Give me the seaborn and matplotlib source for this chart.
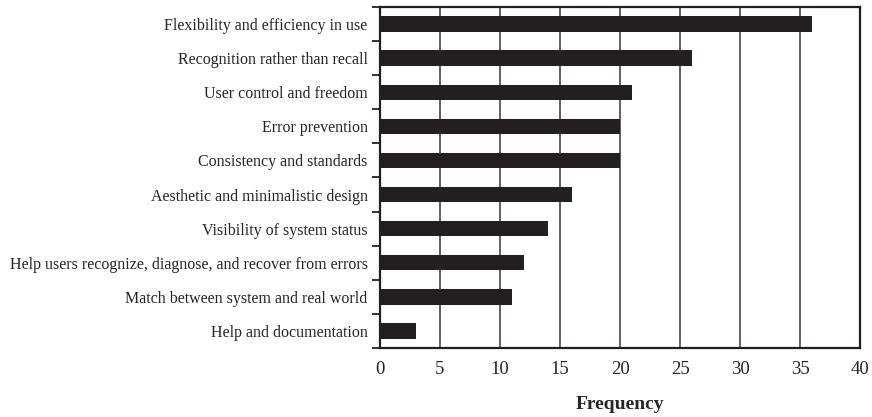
import matplotlib
matplotlib.use("Agg")
import matplotlib.pyplot as plt
import seaborn as sns
import pandas as pd
import numpy as np
from matplotlib.ticker import FixedLocator, NullFormatter

categories = [
    "Flexibility and efficiency in use",
    "Recognition rather than recall",
    "User control and freedom",
    "Error prevention",
    "Consistency and standards",
    "Aesthetic and minimalistic design",
    "Visibility of system status",
    "Help users recognize, diagnose, and recover from errors",
    "Match between system and real world",
    "Help and documentation",
]
frequency = [36, 26, 21, 20, 20, 16, 14, 12, 11, 3]
x_ticks = [0, 5, 10, 15, 20, 25, 30, 35, 40]

sns.set_style("white")
plt.rcParams["font.family"] = ["Liberation Serif", "DejaVu Serif"]

dark = "#231f20"
grid = "#3a3636"
df = pd.DataFrame({"category": categories, "frequency": frequency})

fig = plt.figure(figsize=(8.72, 4.17), dpi=100)
ax = fig.add_axes([380/872, 1-348/417, 480/872, 341/417])

sns.barplot(data=df, x="frequency", y="category", orient="h", color=dark,
            width=0.45, saturation=1, linewidth=0, ax=ax, zorder=3)

ax.set_xlim(0, 40)
ax.set_ylim(len(categories) - 0.5, -0.5)
ax.set_xticks(x_ticks)
ax.set_xticklabels([str(t) for t in x_ticks], fontsize=13.5)
for t in x_ticks:
    ax.axvline(t, color=grid, lw=1.1, zorder=1)

ax.tick_params(axis="x", direction="inout", length=8, width=1.3, color=dark, pad=5)
ax.tick_params(axis="y", which="major", length=0, labelsize=11.5, pad=9)
ax.yaxis.set_minor_locator(FixedLocator(np.arange(-0.5, len(categories) + 0.5, 1)))
ax.yaxis.set_minor_formatter(NullFormatter())
ax.tick_params(axis="y", which="minor", direction="out", length=6, width=1.3, color=dark, left=True)

for s in ax.spines.values():
    s.set_visible(True)
    s.set_color(dark)
    s.set_linewidth(1.6)

ax.set_ylabel("")
ax.set_xlabel("Frequency", fontsize=14, fontweight="bold", labelpad=13)

fig.savefig("out.png", dpi=100)
